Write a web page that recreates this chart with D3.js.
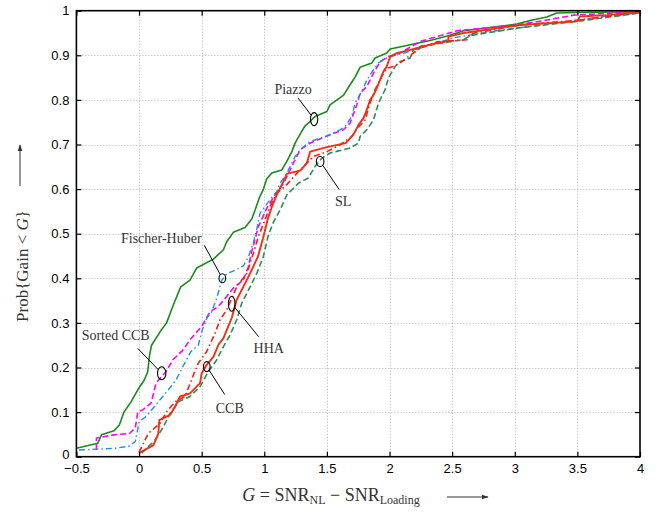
<!DOCTYPE html>
<html>
<head>
<meta charset="utf-8">
<script src="https://cdn.jsdelivr.net/npm/d3@7"></script>
<style>
  html, body { margin: 0; padding: 0; background: #fff; }
  svg { display: block; }
  .tick text { font-family: "Liberation Sans", Arial, sans-serif; font-size: 13px; fill: #000; }
  .lbl { font-family: "Liberation Serif", "Times New Roman", serif; fill: #333; }
</style>
</head>
<body>
<svg id="chart" width="667" height="512"></svg>
<script>
// Empirical CDFs of the SNR gain G, one array of [G, P] pairs per method
const piazzo = [[-0.5,0.019],[-0.33,0.03],[-0.30,0.049],[-0.20,0.058],[-0.157,0.071],[-0.12,0.10],[-0.064,0.123],[-0.01,0.15],[0.042,0.172],[0.07,0.191],[0.082,0.224],[0.10,0.25],[0.168,0.28],[0.22,0.30],[0.274,0.34],[0.333,0.381],[0.407,0.396],[0.46,0.423],[0.594,0.443],[0.674,0.464],[0.70,0.482],[0.753,0.503],[0.847,0.514],[0.90,0.533],[0.927,0.553],[0.96,0.58],[0.993,0.60],[1.02,0.623],[1.06,0.636],[1.14,0.643],[1.18,0.662],[1.22,0.684],[1.246,0.703],[1.29,0.725],[1.326,0.742],[1.352,0.748],[1.406,0.763],[1.5,0.774],[1.525,0.789],[1.632,0.81],[1.685,0.834],[1.725,0.851],[1.765,0.873],[1.859,0.883],[1.885,0.894],[1.978,0.905],[2.005,0.914],[2.138,0.922],[2.324,0.933],[2.47,0.944],[2.59,0.955],[3.017,0.97],[3.123,0.978],[3.256,0.986],[3.336,0.995],[3.5,0.996],[4,0.998]];

const sortedCcb = [[-0.34,0.015],[-0.34,0.042],[-0.2,0.049],[-0.077,0.052],[-0.03,0.064],[-0.01,0.10],[0.03,0.105],[0.096,0.12],[0.136,0.165],[0.216,0.191],[0.27,0.217],[0.35,0.239],[0.407,0.262],[0.5,0.292],[0.567,0.325],[0.633,0.337],[0.7,0.359],[0.753,0.378],[0.833,0.396],[0.873,0.426],[0.90,0.46],[0.953,0.516],[1.02,0.557],[1.086,0.587],[1.153,0.613],[1.232,0.658],[1.286,0.688],[1.366,0.703],[1.472,0.716],[1.632,0.733],[1.685,0.748],[1.739,0.789],[1.765,0.815],[1.819,0.83],[1.872,0.86],[1.925,0.886],[1.991,0.897],[2.085,0.905],[2.244,0.931],[2.54,0.955],[3.017,0.968],[3.256,0.979],[3.469,0.99],[4,0.998]];

const fischerHuber = [[-0.48,0.015],[-0.184,0.019],[-0.077,0.024],[-0.03,0.034],[0.002,0.079],[0.056,0.09],[0.122,0.112],[0.189,0.135],[0.242,0.153],[0.296,0.172],[0.35,0.202],[0.415,0.236],[0.474,0.25],[0.5,0.28],[0.54,0.31],[0.58,0.325],[0.62,0.355],[0.66,0.395],[0.70,0.41],[0.78,0.42],[0.833,0.428],[0.873,0.448],[0.913,0.48],[0.94,0.51],[0.966,0.546],[1.046,0.576],[1.1,0.595],[1.126,0.613],[1.18,0.636],[1.246,0.673],[1.286,0.688],[1.366,0.707],[1.472,0.716],[1.605,0.733],[1.645,0.74],[1.699,0.763],[1.725,0.793],[1.779,0.819],[1.819,0.845],[1.872,0.868],[1.912,0.883],[1.978,0.894],[2.058,0.901],[2.165,0.909],[2.51,0.939],[2.777,0.952],[3.496,0.979],[3.71,0.987],[4,0.995]];

const ccb = [[0,0.008],[0.115,0.026],[0.154,0.052],[0.162,0.082],[0.248,0.094],[0.288,0.112],[0.327,0.135],[0.407,0.142],[0.487,0.165],[0.5,0.187],[0.54,0.206],[0.594,0.224],[0.634,0.251],[0.674,0.266],[0.70,0.284],[0.74,0.311],[0.78,0.352],[0.82,0.374],[0.86,0.396],[0.90,0.419],[0.95,0.449],[0.99,0.49],[1.03,0.535],[1.06,0.56],[1.1,0.587],[1.126,0.602],[1.153,0.617],[1.18,0.634],[1.29,0.642],[1.34,0.658],[1.366,0.684],[1.5,0.694],[1.65,0.703],[1.712,0.722],[1.752,0.744],[1.792,0.759],[1.819,0.778],[1.845,0.8],[1.872,0.811],[1.899,0.827],[1.925,0.845],[1.952,0.864],[1.978,0.875],[2.005,0.897],[2.058,0.905],[2.165,0.912],[2.324,0.924],[2.47,0.932],[2.47,0.942],[2.59,0.95],[3.043,0.968],[3.496,0.976],[3.52,0.987],[3.736,0.99],[4,0.998]];

const hha = [[0,0.01],[0.074,0.052],[0.168,0.075],[0.22,0.101],[0.288,0.123],[0.367,0.135],[0.434,0.183],[0.474,0.21],[0.54,0.236],[0.607,0.277],[0.647,0.307],[0.70,0.329],[0.78,0.381],[0.86,0.411],[0.913,0.456],[0.953,0.494],[1.006,0.531],[1.046,0.561],[1.1,0.591],[1.166,0.606],[1.272,0.639],[1.392,0.673],[1.5,0.684],[1.605,0.699],[1.699,0.718],[1.739,0.735],[1.805,0.755],[1.845,0.793],[1.885,0.823],[1.938,0.853],[1.978,0.871],[2.032,0.875],[2.085,0.883],[2.165,0.9],[2.244,0.916],[2.378,0.93],[2.618,0.935],[2.644,0.948],[3.043,0.968],[3.52,0.979],[4,0.997]];

const sl = [[0.021,0.008],[0.128,0.037],[0.194,0.067],[0.248,0.097],[0.314,0.123],[0.407,0.135],[0.487,0.157],[0.554,0.191],[0.62,0.217],[0.674,0.247],[0.727,0.273],[0.78,0.307],[0.82,0.344],[0.887,0.381],[0.94,0.411],[0.993,0.449],[1.03,0.494],[1.07,0.524],[1.126,0.553],[1.18,0.587],[1.272,0.613],[1.352,0.625],[1.406,0.651],[1.459,0.669],[1.525,0.681],[1.685,0.692],[1.752,0.703],[1.765,0.718],[1.819,0.733],[1.872,0.755],[1.912,0.793],[1.965,0.823],[1.991,0.849],[2.045,0.875],[2.085,0.886],[2.165,0.894],[2.19,0.912],[2.244,0.92],[2.59,0.935],[2.644,0.944],[3.017,0.961],[3.496,0.976],[4,0.995]];

// Axis ticks
const xTicks = [-0.5, 0, 0.5, 1, 1.5, 2, 2.5, 3, 3.5, 4];
const yTicks = [0, 0.1, 0.2, 0.3, 0.4, 0.5, 0.6, 0.7, 0.8, 0.9, 1];

// Method names and the point each callout circles
const labelNames = ["Piazzo", "Sorted CCB", "Fischer-Huber", "HHA", "CCB", "SL"];
const labelTargets = [[1.398,0.757],[0.181,0.187],[0.665,0.40],[0.74,0.343],[0.541,0.202],[1.446,0.662]];

// ---------------------------------------------------------------
const svg = d3.select("#chart");
const L = 76.4, R = 640, T = 10.7, B = 456.7;
const x = d3.scaleLinear([-0.5, 4], [L, R]);
const y = d3.scaleLinear([0, 1], [B, T]);

svg.append("rect").attr("width", 667).attr("height", 512).attr("fill", "#fff");

// dotted grid
const grid = svg.append("g").attr("stroke", "#b4b4b4").attr("stroke-width", 1).attr("stroke-dasharray", "1,2");
grid.selectAll("line.gx").data(xTicks.slice(1, -1)).join("line")
  .attr("x1", d => Math.round(x(d)) + 0.5).attr("x2", d => Math.round(x(d)) + 0.5)
  .attr("y1", T).attr("y2", B);
grid.selectAll("line.gy").data(yTicks.slice(1, -1)).join("line")
  .attr("y1", d => Math.round(y(d)) + 0.5).attr("y2", d => Math.round(y(d)) + 0.5)
  .attr("x1", L).attr("x2", R);

// series
const series = [
  { data: piazzo,       color: "#1a8a1a", width: 1.6, dash: null },
  { data: sortedCcb,    color: "#ff00ff", width: 1.6, dash: "6,3" },
  { data: fischerHuber, color: "#1e90e6", width: 1.4, dash: "6,3,1.5,3" },
  { data: sl,           color: "#2e8b57", width: 1.6, dash: "6,3" },
  { data: hha,          color: "#ff1a10", width: 1.6, dash: "6,3,1.5,3" },
  { data: ccb,          color: "#f03010", width: 1.9, dash: null }
];
svg.append("clipPath").attr("id", "clip").append("rect")
  .attr("x", L).attr("y", T).attr("width", R - L).attr("height", B - T);
const line = d3.line().x(d => x(d[0])).y(d => y(d[1]));
svg.append("g").attr("clip-path", "url(#clip)")
  .selectAll("path").data(series).join("path")
  .attr("d", d => line(d.data))
  .attr("fill", "none")
  .attr("stroke", d => d.color)
  .attr("stroke-width", d => d.width)
  .attr("stroke-dasharray", d => d.dash)
  .attr("stroke-linejoin", "round");

// axes with inward ticks on every side
const fmt = d3.format("~g");
svg.append("g").attr("transform", `translate(0,${B})`)
  .call(d3.axisBottom(x).tickValues(xTicks).tickFormat(fmt).tickSizeInner(-5).tickSizeOuter(0).tickPadding(7))
  .call(g => g.select(".domain").remove());
svg.append("g").attr("transform", `translate(0,${T})`)
  .call(d3.axisTop(x).tickValues(xTicks).tickFormat("").tickSizeInner(-5).tickSizeOuter(0))
  .call(g => g.select(".domain").remove());
svg.append("g").attr("transform", `translate(${L},0)`)
  .call(d3.axisLeft(y).tickValues(yTicks).tickFormat(fmt).tickSizeInner(-5).tickSizeOuter(0).tickPadding(7))
  .call(g => g.select(".domain").remove())
  // lift the bottom label so it clears the first x label
  .call(g => g.selectAll(".tick").filter(d => d === 0).select("text").attr("dy", "0.1em"));
svg.append("g").attr("transform", `translate(${R},0)`)
  .call(d3.axisRight(y).tickValues(yTicks).tickFormat("").tickSizeInner(-5).tickSizeOuter(0))
  .call(g => g.select(".domain").remove());
svg.selectAll(".tick line").attr("stroke", "#000").attr("stroke-width", 1.2);

svg.append("rect").attr("x", L).attr("y", T).attr("width", R - L).attr("height", B - T)
  .attr("fill", "none").attr("stroke", "#000").attr("stroke-width", 1.6);

// callouts: ellipse around the point, leader line, method name
const callouts = [
  { rx: 3.7, ry: 6.5, from: [-16, -21], text: [-21, -25] },
  { rx: 4.2, ry: 6.5, from: [-24, -25], text: [-46, -33] },
  { rx: 3.3, ry: 4.5, from: [-18, -33], text: [-61, -35] },
  { rx: 3.3, ry: 7.5, from: [27, 33],   text: [37, 49] },
  { rx: 3.3, ry: 5.0, from: [18, 28],   text: [23, 46] },
  { rx: 3.8, ry: 5.0, from: [19, 28],   text: [23, 45] }
];
const cg = svg.append("g");
labelNames.forEach((name, i) => {
  const c = callouts[i];
  const cx = x(labelTargets[i][0]), cy = y(labelTargets[i][1]);
  cg.append("ellipse").attr("cx", cx).attr("cy", cy).attr("rx", c.rx).attr("ry", c.ry)
    .attr("fill", "none").attr("stroke", "#000").attr("stroke-width", 1.1);
  // leader from the label side to the ellipse rim
  const dx = c.from[0], dy = c.from[1];
  const t = 1 / Math.sqrt((dx * dx) / (c.rx * c.rx) + (dy * dy) / (c.ry * c.ry));
  cg.append("line")
    .attr("x1", cx + dx).attr("y1", cy + dy)
    .attr("x2", cx + dx * t).attr("y2", cy + dy * t)
    .attr("stroke", "#000").attr("stroke-width", 1);
  cg.append("text").attr("class", "lbl")
    .attr("x", cx + c.text[0]).attr("y", cy + c.text[1])
    .attr("text-anchor", "middle").attr("font-size", 14)
    .text(name);
});

// axis titles
const xt = svg.append("text").attr("class", "lbl").attr("x", 331).attr("y", 501)
  .attr("text-anchor", "middle").attr("font-size", 18).attr("fill", "#333");
xt.append("tspan").attr("font-style", "italic").text("G");
xt.append("tspan").text(" = SNR");
xt.append("tspan").attr("font-size", 12).attr("dy", 3).text("NL");
xt.append("tspan").attr("dy", -3).text(" − SNR");
xt.append("tspan").attr("font-size", 12).attr("dy", 3).text("Loading");

const yt = svg.append("text").attr("class", "lbl").attr("transform", "translate(28,266) rotate(-90)")
  .attr("text-anchor", "middle").attr("font-size", 17).attr("fill", "#333");
yt.append("tspan").text("Prob{Gain < ");
yt.append("tspan").attr("font-style", "italic").text("G");
yt.append("tspan").text("}");

// direction arrows next to the axis titles
const defs = svg.append("defs");
defs.append("marker").attr("id", "arr").attr("viewBox", "0 0 10 10").attr("refX", 9).attr("refY", 5)
  .attr("markerWidth", 7).attr("markerHeight", 7).attr("markerUnits", "userSpaceOnUse").attr("orient", "auto")
  .append("path").attr("d", "M0,1.5 L10,5 L0,8.5 Z").attr("fill", "#333");
svg.append("line").attr("x1", 447).attr("y1", 497).attr("x2", 488).attr("y2", 497)
  .attr("stroke", "#333").attr("stroke-width", 1).attr("marker-end", "url(#arr)");
svg.append("line").attr("x1", 20).attr("y1", 186).attr("x2", 20).attr("y2", 145)
  .attr("stroke", "#333").attr("stroke-width", 1).attr("marker-end", "url(#arr)");
</script>
</body>
</html>
